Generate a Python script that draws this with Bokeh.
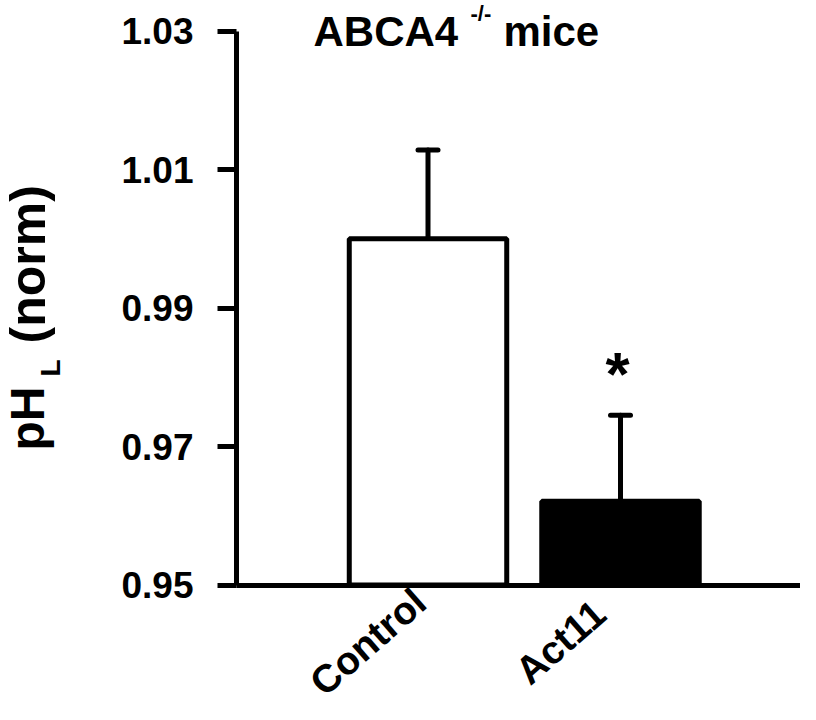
import math
from bokeh.plotting import figure
from bokeh.models import (Range1d, FixedTicker, Whisker, TeeHead, ColumnDataSource,
                          Label, LabelSet)
from bokeh.core.properties import value
from bokeh.embed import file_html
from bokeh.resources import INLINE

# ---- data ----
categories = ["Control", "Act11"]
means = [1.000, 0.9621]
errors = [0.0128, 0.0124]
bar_colors = ["white", "black"]
y_ticks = [0.95, 0.97, 0.99, 1.01, 1.03]
significance = ["", "*"]

FONT = "Liberation Sans"

# ---- layout (pixels on the canvas) ----
W, H = 800, 704
AXIS_X_PX = 236          # where the y axis is drawn
FIRST_BAR_PX = 427.5     # centre of first category
CAT_STEP_PX = 192.5      # distance between categories
Y_TOP_PX, Y_BOT_PX = 30.5, 584.5   # pixel rows of the top and bottom ticks

xs = list(range(len(categories)))
uppers = [m + e for m, e in zip(means, errors)]

py = (Y_BOT_PX - Y_TOP_PX) / (y_ticks[-1] - y_ticks[0])   # px per data unit
y_start = y_ticks[0] - (H - Y_BOT_PX) / py
y_end = y_ticks[-1] + Y_TOP_PX / py
x_start = -FIRST_BAR_PX / CAT_STEP_PX
x_end = (W - FIRST_BAR_PX) / CAT_STEP_PX
x_axis_loc = (AXIS_X_PX - FIRST_BAR_PX) / CAT_STEP_PX

src = ColumnDataSource(dict(x=xs, cat=categories, top=means, upper=uppers,
                            color=bar_colors, sig=significance,
                            base=[y_ticks[0]] * len(xs)))

p = figure(width=W, height=H, output_backend="svg", toolbar_location=None,
           x_range=Range1d(x_start, x_end), y_range=Range1d(y_start, y_end),
           min_border=0, min_border_left=0, min_border_right=0,
           min_border_top=0, min_border_bottom=0)
p.outline_line_color = None
p.xgrid.visible = False
p.ygrid.visible = False
p.background_fill_color = "white"

p.vbar(x="x", top="top", bottom=y_ticks[0], width=0.818, fill_color="color",
       line_color="black", line_width=5, source=src)

p.add_layout(Whisker(base="x", upper="upper", lower="top", source=src,
                     line_width=5, line_color="black", line_cap="round",
                     upper_head=TeeHead(size=20, line_width=5, line_color="black",
                                        line_cap="round"),
                     lower_head=None))

# y axis
ya = p.yaxis[0]
ya.fixed_location = x_axis_loc
ya.bounds = (y_ticks[0], y_ticks[-1])
ya.ticker = FixedTicker(ticks=y_ticks)
ya.axis_line_width = 5
ya.axis_line_color = "black"
ya.major_tick_line_width = 5
ya.major_tick_out = 19
ya.major_tick_in = 0
ya.minor_tick_line_color = None
ya.major_label_standoff = 24
ya.major_label_text_font = FONT
ya.major_label_text_font_style = "bold"
ya.major_label_text_font_size = "37px"
ya.major_label_text_color = "black"

# x axis (line only)
xa = p.xaxis[0]
xa.fixed_location = y_ticks[0]
xa.bounds = (x_axis_loc, x_end)
xa.ticker = FixedTicker(ticks=[])
xa.axis_line_width = 5
xa.axis_line_color = "black"
xa.major_tick_out = 0
xa.major_tick_in = 0
xa.minor_tick_line_color = None

# category labels, rotated
p.add_layout(LabelSet(x="x", y="base", text="cat", source=src,
                      angle=0.72, text_align="center", text_baseline="middle",
                      x_offset=-60, y_offset=-57,
                      text_font=value(FONT), text_font_style="bold",
                      text_font_size="39px", text_color="black"))

# significance marker
p.add_layout(LabelSet(x="x", y="upper", text="sig", source=src,
                      text_align="center", text_baseline="alphabetic",
                      x_offset=-3, y_offset=20, text_font=value(FONT),
                      text_font_style="bold",
                      text_font_size="62px", text_color="black"))

# text pieces in screen units (from canvas bottom-left), anchored at text middle
def lab(text, x, y, size, angle=0.0):
    p.add_layout(Label(x=x, y=y, x_units="screen", y_units="screen", text=text,
                       angle=angle, text_font=FONT, text_font_style="bold",
                       text_font_size=size, text_color="black",
                       text_align="left", text_baseline="middle"))

# title
lab("ABCA4", 313, H - 31, "42px")
lab("-/-", 470, H - 13, "22px")
lab("mice", 503, H - 31, "42px")

# y axis label
lab("pH", 27, H - 450, "48px", math.pi / 2)
lab("L", 50, H - 376, "28px", math.pi / 2)
lab("(norm)", 27, H - 343, "50px", math.pi / 2)

open("out.html", "w").write(file_html(p, INLINE))
